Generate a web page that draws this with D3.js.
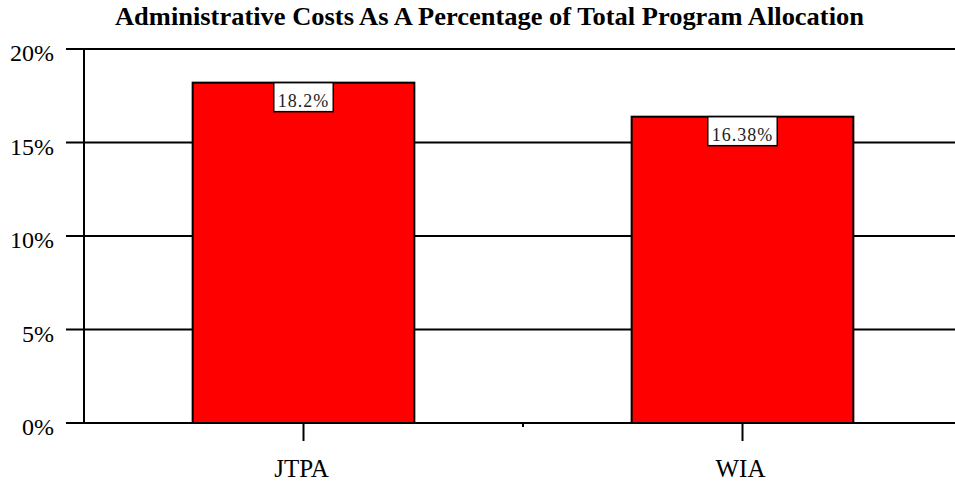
<!DOCTYPE html>
<html>
<head>
<style>
body { margin: 0; background: #fff; }
svg text { font-family: "Liberation Serif", "Times New Roman", Times, serif; }
</style>
</head>
<body>
</body>
<script src="https://d3js.org/d3.v7.min.js"></script>
<script>
// chart data
var categories = ["JTPA", "WIA"];
var values = [18.2, 16.38];
var valueLabels = ["18.2%", "16.38%"];
var yTicks = [0, 5, 10, 15, 20];
var chartTitle = "Administrative Costs As A Percentage of Total Program Allocation";

var width = 955, height = 485;

var svg = d3.select("body").append("svg")
            .attr("width", width)
            .attr("height", height);

var x = d3.scaleBand()
          .domain(categories)
          .range([84, 962])
          .paddingInner(0.495)
          .paddingOuter(0.2475);

var y = d3.scaleLinear()
          .domain([0, 20])
          .range([423, 49]);

// title
svg.append("text")
   .attr("x", 489.5)
   .attr("y", 25)
   .attr("text-anchor", "middle")
   .attr("font-weight", "bold")
   .attr("font-size", 25)
   .attr("textLength", 749)
   .attr("lengthAdjust", "spacingAndGlyphs")
   .text(chartTitle);

// gridlines with their left tick
svg.selectAll("line.grid")
   .data(yTicks)
   .enter()
   .append("line")
   .attr("class", "grid")
   .attr("x1", 66)
   .attr("x2", 962)
   .attr("y1", function (d) { return y(d); })
   .attr("y2", function (d) { return y(d); })
   .attr("stroke", "black")
   .attr("stroke-width", 2);

svg.selectAll("text.ylab")
   .data(yTicks)
   .enter()
   .append("text")
   .attr("class", "ylab")
   .attr("x", 54)
   .attr("y", function (d) { return y(d) + 12; })
   .attr("text-anchor", "end")
   .attr("font-size", 24)
   .text(function (d) { return d + "%"; });

// y axis line
svg.append("line")
   .attr("x1", 84).attr("x2", 84)
   .attr("y1", y(20) - 1).attr("y2", y(0))
   .attr("stroke", "black")
   .attr("stroke-width", 2);

// bars
svg.selectAll("rect.bar")
   .data(values)
   .enter()
   .append("rect")
   .attr("class", "bar")
   .attr("x", function (d, i) { return x(categories[i]); })
   .attr("y", function (d) { return y(d); })
   .attr("width", x.bandwidth())
   .attr("height", function (d) { return y(0) - y(d); })
   .attr("fill", "#ff0000")
   .attr("stroke", "black")
   .attr("stroke-width", 2);

// category ticks
svg.selectAll("line.xtick")
   .data(categories)
   .enter()
   .append("line")
   .attr("class", "xtick")
   .attr("x1", function (d) { return x(d) + x.bandwidth() / 2; })
   .attr("x2", function (d) { return x(d) + x.bandwidth() / 2; })
   .attr("y1", y(0))
   .attr("y2", y(0) + 18)
   .attr("stroke", "black")
   .attr("stroke-width", 2);

// short divider tick between the two categories
var mid = x(categories[1]) - x.step() * x.paddingInner() / 2;
svg.append("line")
   .attr("x1", mid).attr("x2", mid)
   .attr("y1", y(0)).attr("y2", y(0) + 4)
   .attr("stroke", "black")
   .attr("stroke-width", 2);

svg.selectAll("text.xlab")
   .data(categories)
   .enter()
   .append("text")
   .attr("class", "xlab")
   .attr("x", function (d) { return x(d) + x.bandwidth() / 2 - 2; })
   .attr("y", 477)
   .attr("text-anchor", "middle")
   .attr("font-size", 25)
   .text(function (d) { return d; });

// value labels in boxes
var labels = svg.selectAll("g.vlab")
                .data(values)
                .enter()
                .append("g")
                .attr("class", "vlab");

labels.append("text")
      .attr("x", function (d, i) { return x(categories[i]) + x.bandwidth() / 2; })
      .attr("y", function (d) { return y(d) + 24.5; })
      .attr("text-anchor", "middle")
      .attr("font-size", 18)
      .attr("letter-spacing", 1)
      .attr("fill", "#222")
      .text(function (d, i) { return valueLabels[i]; });

labels.each(function (d, i) {
    var g = d3.select(this);
    var bb = g.select("text").node().getBBox();
    var cx = x(categories[i]) + x.bandwidth() / 2;
    var w = bb.width + 8;
    g.insert("rect", "text")
     .attr("x", cx - w / 2)
     .attr("y", y(d))
     .attr("width", w)
     .attr("height", 29)
     .attr("fill", "white")
     .attr("stroke", "black")
     .attr("stroke-width", 1.5);
});
</script>
</html>
